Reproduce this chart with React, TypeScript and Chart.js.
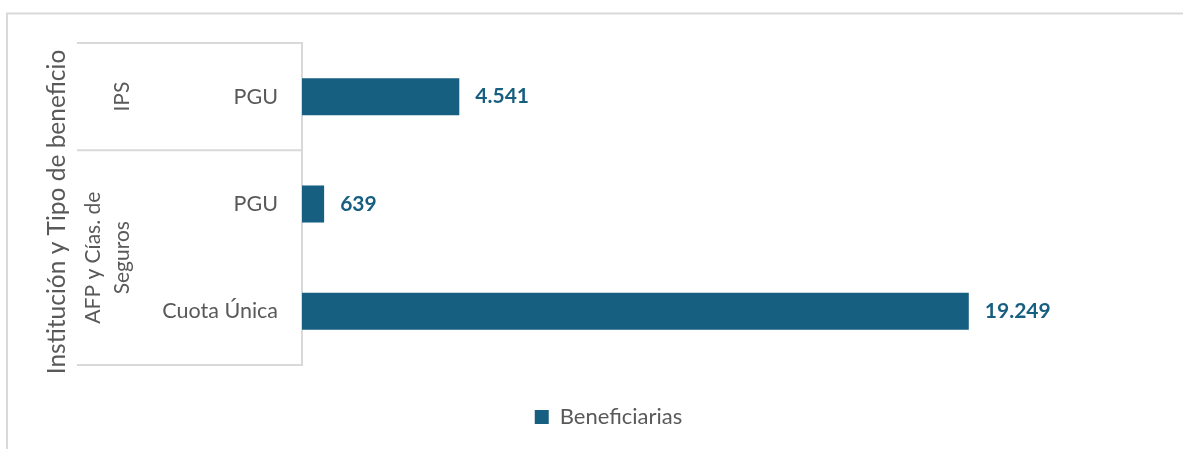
import React, { useEffect, useRef } from "react";
import { Chart, registerables } from "chart.js";

Chart.register(...registerables);

// ---- data ----
const categories = ["PGU", "PGU", "Cuota Única"];
const beneficiarias = [4541, 639, 19249];
const groupLabels = [["IPS"], ["AFP y Cías. de", "Seguros"]];
const groupStart = [0, 1];
const groupEnd = [0, 2];
const seriesLabel = "Beneficiarias";
const axisTitle = "Institución y Tipo de beneficio";
const xMax = 25000;

// ---- styles ----
const FONT = "Lato, 'Noto Sans', sans-serif";
const BAR = "#175f80";
const GRAY_TEXT = "#595959";
const LINE = "#d9d9d9";

const fmt = (v: number) => String(v).replace(/\B(?=(\d{3})+(?!\d))/g, ".");

const decorPlugin = {
  id: "decor",
  beforeDraw(chart: any) {
    const ctx = chart.ctx;
    ctx.save();
    ctx.strokeStyle = LINE;
    ctx.lineWidth = 2;
    ctx.beginPath();
    ctx.moveTo(7, 449);
    ctx.lineTo(7, 13.5);
    ctx.lineTo(1183, 13.5);
    ctx.stroke();
    ctx.restore();
  },
  afterDraw(chart: any) {
    const ctx = chart.ctx;
    const y = chart.scales.y;
    const n = categories.length;
    const half = (y.bottom - y.top) / n / 2;
    const xLeft = 77;
    const xRight = chart.chartArea.left;
    ctx.save();
    ctx.strokeStyle = LINE;
    ctx.lineWidth = 2;
    // separators
    const bounds: number[] = [];
    groupStart.forEach((s, gi) => {
      bounds.push(y.getPixelForValue(s) - half);
      bounds.push(y.getPixelForValue(groupEnd[gi]) + half);
    });
    const uniq = Array.from(new Set(bounds.map((b) => Math.round(b * 10) / 10)));
    uniq.forEach((b) => {
      ctx.beginPath();
      ctx.moveTo(xLeft, b);
      ctx.lineTo(xRight, b);
      ctx.stroke();
    });
    // group labels
    ctx.fillStyle = GRAY_TEXT;
    ctx.font = `21px ${FONT}`;
    ctx.textAlign = "center";
    ctx.textBaseline = "middle";
    groupLabels.forEach((lines, gi) => {
      const top = y.getPixelForValue(groupStart[gi]) - half;
      const bot = y.getPixelForValue(groupEnd[gi]) + half;
      const cy = (top + bot) / 2;
      const lastX = 122;
      const spacing = 29;
      lines.forEach((ln, li) => {
        const cx = lastX - (lines.length - 1 - li) * spacing;
        ctx.save();
        ctx.translate(cx, cy);
        ctx.rotate(-Math.PI / 2);
        ctx.fillText(ln, 0, 0);
        ctx.restore();
      });
    });
    // axis title
    ctx.font = `24.5px ${FONT}`;
    ctx.save();
    ctx.translate(57, 212);
    ctx.rotate(-Math.PI / 2);
    ctx.fillText(axisTitle, 0, 0);
    ctx.restore();
    ctx.restore();
  },
  afterDatasetsDraw(chart: any) {
    const ctx = chart.ctx;
    const meta = chart.getDatasetMeta(0);
    ctx.save();
    ctx.fillStyle = BAR;
    ctx.font = `bold 21px ${FONT}`;
    ctx.textAlign = "left";
    ctx.textBaseline = "middle";
    meta.data.forEach((bar: any, i: number) => {
      ctx.fillText(fmt(beneficiarias[i]), bar.x + 16, bar.y);
    });
    ctx.restore();
  },
};

export default function App() {
  const ref = useRef<HTMLCanvasElement | null>(null);
  useEffect(() => {
    document.body.style.margin = "0";
    if (!ref.current) return;
    Chart.defaults.font.family = FONT;
    const chart = new Chart(ref.current, {
      type: "bar",
      data: {
        labels: categories,
        datasets: [
          {
            label: seriesLabel,
            data: beneficiarias,
            backgroundColor: BAR,
            borderWidth: 0,
            categoryPercentage: 1,
            barPercentage: 0.345,
          },
        ],
      },
      options: {
        indexAxis: "y",
        animation: false,
        responsive: false,
        devicePixelRatio: 1,
        layout: { padding: { top: 43, right: 15, left: 49, bottom: 11 } },
        scales: {
          x: {
            min: 0,
            max: xMax,
            display: true,
            ticks: { display: false },
            grid: { display: false },
            border: { display: false },
            afterFit: (s: any) => {
              s.height = 31;
            },
          },
          y: {
            type: "category",
            offset: true,
            grid: { display: false, drawTicks: false },
            border: { display: true, color: LINE, width: 2 },
            ticks: {
              color: GRAY_TEXT,
              font: { size: 21.5, family: FONT },
              padding: 24,
              autoSkip: false,
            },
            afterFit: (s: any) => {
              s.width = 253;
            },
          },
        },
        plugins: {
          legend: {
            position: "bottom",
            labels: {
              boxWidth: 14,
              boxHeight: 14,
              color: GRAY_TEXT,
              font: { size: 22, family: FONT },
              padding: 10,
            },
          },
          tooltip: { enabled: false },
        },
      },
      plugins: [decorPlugin],
    });
    return () => chart.destroy();
  }, []);
  return (
    <div style={{ width: 1183, height: 449 }}>
      <canvas ref={ref} width={1183} height={449} />
    </div>
  );
}
